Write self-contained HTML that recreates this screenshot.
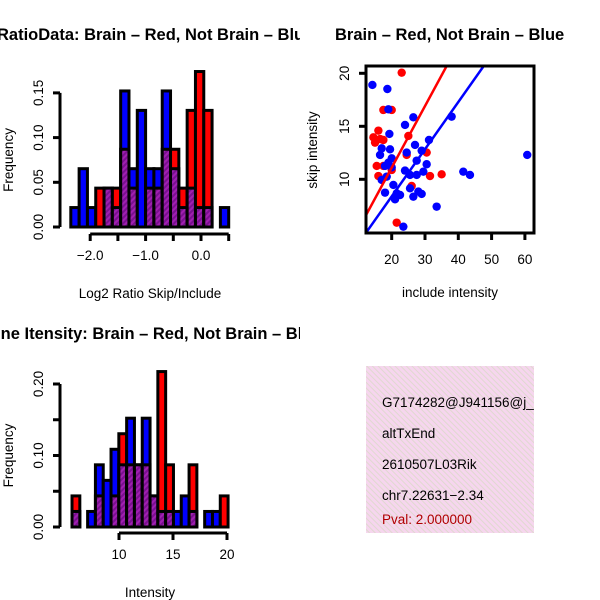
<!DOCTYPE html>
<html><head><meta charset="utf-8"><style>
html,body{margin:0;padding:0;background:#fff;}
svg{display:block;font-family:"Liberation Sans",sans-serif;}
</style></head><body>
<svg id="c" width="600" height="600" viewBox="0 0 600 600" xmlns="http://www.w3.org/2000/svg">
<defs>
<pattern id="hatch" width="4" height="4" patternUnits="userSpaceOnUse" patternTransform="rotate(45)">
<rect width="4" height="4" fill="#a020b0"/><rect width="2" height="4" fill="#7a1090"/>
</pattern>
<pattern id="pinkhatch" width="4" height="4" patternUnits="userSpaceOnUse" patternTransform="rotate(-45)">
<rect width="4" height="4" fill="#f6d6ee"/><rect width="1" height="4" fill="#e0d8d0"/>
</pattern>
<clipPath id="boxclip"><rect x="366" y="366" width="168" height="167"/></clipPath>
<clipPath id="leftclip"><rect x="0" y="0" width="300" height="600"/></clipPath>
</defs>
<g clip-path="url(#leftclip)">
<text x="-3" y="40" font-size="16.5" font-weight="bold">RatioData: Brain – Red, Not Brain – Blue</text>
<text x="-14" y="339" font-size="16.5" font-weight="bold">Line Itensity: Brain – Red, Not Brain – Blue</text>
</g>
<text x="335" y="40" font-size="16.5" font-weight="bold">Brain – Red, Not Brain – Blue</text>
<g id="g1"></g>
<g id="g2"></g>
<g id="g3"></g>
<g>
<rect x="366" y="366" width="168" height="167" fill="url(#pinkhatch)"/>
<g clip-path="url(#boxclip)" font-size="13.5">
<text x="382" y="407">G7174282@J941156@j_</text>
<text x="382" y="438">altTxEnd</text>
<text x="382" y="469">2610507L03Rik</text>
<text x="382" y="500">chr7.22631−2.34</text>
<text x="382" y="524" fill="#b00000">Pval: 2.000000</text>
</g></g>
</svg>
<script>
const U = 1/46;
const ratioBinStart = -2.35, ratioBinWidth = 0.15;
const ratioBlue = [1,3,1,0,2,1,7,3,6,3,3,7,3,1,2,1,1,0,1];
const ratioRed  = [0,0,0,2,2,2,4,2,0,2,2,4,4,2,6,8,6,0,0];
const ratioYTicks = [0,0.05,0.10,0.15];
const ratioYTickLabels = ["0.00","0.05","0.10","0.15"];
const ratioXTicks = [-2.0,-1.5,-1.0,-0.5,0.0,0.5];
const ratioXTickLabels = ["−2.0","","−1.0","","0.0",""];
const intBinStart = 5.65, intBinWidth = 0.7225;
const intBlue = [1,0,1,4,3,5,4,7,4,7,2,1,1,1,2,1,0,1,1,0];
const intRed  = [2,0,0,2,0,2,6,4,4,4,2,10,4,0,0,4,0,0,0,2];
const intYTicks = [0,0.05,0.10,0.15,0.20];
const intYTickLabels = ["0.00","","0.10","","0.20"];
const intXTicks = [10,15,20];
const intXTickLabels = ["10","15","20"];
const redX = [23.0,17.5,20.0,16.0,14.5,16.5,15.0,17.5,15.5,17.5,20.0,16.0,30.5,31.5,35.0,25.0,26.0,21.5,24.5,21.0];
const redY = [20.06,16.54,16.54,14.59,13.96,13.80,13.46,13.71,11.26,11.26,10.88,10.31,12.52,10.31,10.47,14.09,9.37,5.91,12.30,8.21];
const blueX = [14.2,18.7,19.0,26.5,24.0,19.3,31.2,38.0,27.0,24.5,29.0,17.0,19.5,16.5,20.0,19.0,18.0,20.0,30.5,27.5,29.5,24.0,25.5,27.5,18.5,17.0,20.5,25.5,28.0,29.0,18.0,22.5,21.0,26.5,33.5,41.5,43.5,60.7,23.5,21.5];
const blueY = [18.90,18.52,16.60,15.85,15.13,14.28,13.71,15.91,13.24,12.52,12.70,12.92,12.83,12.30,11.98,11.57,11.26,11.13,11.42,11.76,10.72,10.82,10.41,10.41,10.25,9.94,9.47,9.15,8.84,8.62,8.74,8.52,8.11,8.36,7.42,10.72,10.41,12.30,5.53,8.68];
const redFit = [-0.52, 0.581];
const blueFit = [-0.51, 0.445];
const scXTicks = [20,30,40,50,60];
const scYTicks = [10,15,20];

const FS = 13.5;
const NS = "http://www.w3.org/2000/svg";
function mk(parent, tag, attrs){const e=document.createElementNS(NS,tag);for(const k in attrs)e.setAttribute(k,attrs[k]);parent.appendChild(e);return e;}

function hist(g, binStart, binW, blue, red, xs, ys, yTicks, yLabels, xTicks, xLabels, xAxisY, title){
  for(let i=0;i<blue.length;i++){
    const x0=xs(binStart+i*binW), x1=xs(binStart+(i+1)*binW);
    const b=blue[i]*U, r=red[i]*U;
    const hi=Math.max(b,r), lo=Math.min(b,r);
    if(hi>0){
      const rc=mk(g,'rect',{x:x0,y:ys(hi),width:x1-x0,height:ys(0)-ys(hi),fill:b>=r?'#0000ff':'#ff0000',stroke:'#000','stroke-width':3});
      
      
    }
    if(lo>0){
      const pc=mk(g,'rect',{x:x0,y:ys(lo),width:x1-x0,height:ys(0)-ys(lo),fill:'url(#hatch)',stroke:'#000','stroke-width':3});
      
      
    }
  }
  const ax=60;
  const yl=mk(g,'line',{x1:ax,x2:ax,y1:ys(yTicks[0]),y2:ys(yTicks[yTicks.length-1]),stroke:'#000','stroke-width':3});
  
  
  yTicks.forEach((t,i)=>{
    mk(g,'line',{x1:ax-7,x2:ax,y1:ys(t),y2:ys(t),stroke:'#000','stroke-width':3});
    if(yLabels[i]){const tx=mk(g,'text',{x:0,y:0,'font-size':FS,'text-anchor':'middle',transform:`translate(${ax-17},${ys(t)}) rotate(-90)`});tx.textContent=yLabels[i];
      
      }
  });
  const xl=mk(g,'line',{x1:xs(xTicks[0]),x2:xs(xTicks[xTicks.length-1]),y1:xAxisY,y2:xAxisY,stroke:'#000','stroke-width':3});
  
  
  xTicks.forEach((t,i)=>{
    mk(g,'line',{x1:xs(t),x2:xs(t),y1:xAxisY,y2:xAxisY+7,stroke:'#000','stroke-width':3});
    if(xLabels[i]){const tx=mk(g,'text',{x:xs(t),y:xAxisY+26,'font-size':FS,'text-anchor':'middle'});tx.textContent=xLabels[i];
      
      }
  });
  const yt=mk(g,'text',{x:0,y:0,'font-size':FS,'text-anchor':'middle',transform:`translate(13,${ys(yTicks[yTicks.length-1]/2)}) rotate(-90)`});
  yt.textContent='Frequency';
  
  
  const xt=mk(g,'text',{x:150,y:xAxisY+64,'font-size':FS,'text-anchor':'middle'});
  xt.textContent=title;
  
  
}

const g1=document.getElementById('g1');
hist(g1, ratioBinStart, ratioBinWidth, ratioBlue, ratioRed,
  v=>201+(v-0)*55.4, v=>227-v*894, ratioYTicks, ratioYTickLabels, ratioXTicks, ratioXTickLabels, 234, 'Log2 Ratio Skip/Include');
const g2=document.getElementById('g2');
hist(g2, intBinStart, intBinWidth, intBlue, intRed,
  v=>119+(v-10)*10.8, v=>527-v*715, intYTicks, intYTickLabels, intXTicks, intXTickLabels, 533, 'Intensity');

const g3=document.getElementById('g3');
const sx=v=>391.7+(v-20)*3.33, sy=v=>179.3-(v-10)*10.6;
mk(g3,'defs',{}).innerHTML='<clipPath id="scclip"><rect x="366" y="66" width="168" height="167"/></clipPath>';
const pts=mk(g3,'g',{'clip-path':'url(#scclip)'});
redX.forEach((x,i)=>{const c=mk(pts,'circle',{cx:sx(x),cy:sy(redY[i]),r:4.2,fill:'#ff0000'});
  
  });
blueX.forEach((x,i)=>{const c=mk(pts,'circle',{cx:sx(x),cy:sy(blueY[i]),r:4.2,fill:'#0000ff'});
  
  });
[[redFit,'#ff0000','red-fit-line'],[blueFit,'#0000ff','blue-fit-line']].forEach(([f,col,nm])=>{
  const l=mk(pts,'line',{x1:sx(0),y1:sy(f[0]),x2:sx(80),y2:sy(f[0]+f[1]*80),stroke:col,'stroke-width':2.5});
  
  
});
const box=mk(g3,'rect',{x:366,y:66,width:168,height:167,fill:'none',stroke:'#000','stroke-width':3});


scXTicks.forEach(t=>{
  mk(g3,'line',{x1:sx(t),x2:sx(t),y1:233,y2:240,stroke:'#000','stroke-width':3});
  const tx=mk(g3,'text',{x:sx(t),y:264,'font-size':FS,'text-anchor':'middle'});tx.textContent=t;
  
  
});
scYTicks.forEach(t=>{
  mk(g3,'line',{x1:359,x2:366,y1:sy(t),y2:sy(t),stroke:'#000','stroke-width':3});
  const tx=mk(g3,'text',{x:0,y:0,'font-size':FS,'text-anchor':'middle',transform:`translate(349,${sy(t)}) rotate(-90)`});tx.textContent=t;
  
  
});
const sxt=mk(g3,'text',{x:450,y:297,'font-size':FS,'text-anchor':'middle'});sxt.textContent='include intensity';


const syt=mk(g3,'text',{x:0,y:0,'font-size':FS,'text-anchor':'middle',transform:'translate(317,150) rotate(-90)'});syt.textContent='skip intensity';


</script>
</body></html>
